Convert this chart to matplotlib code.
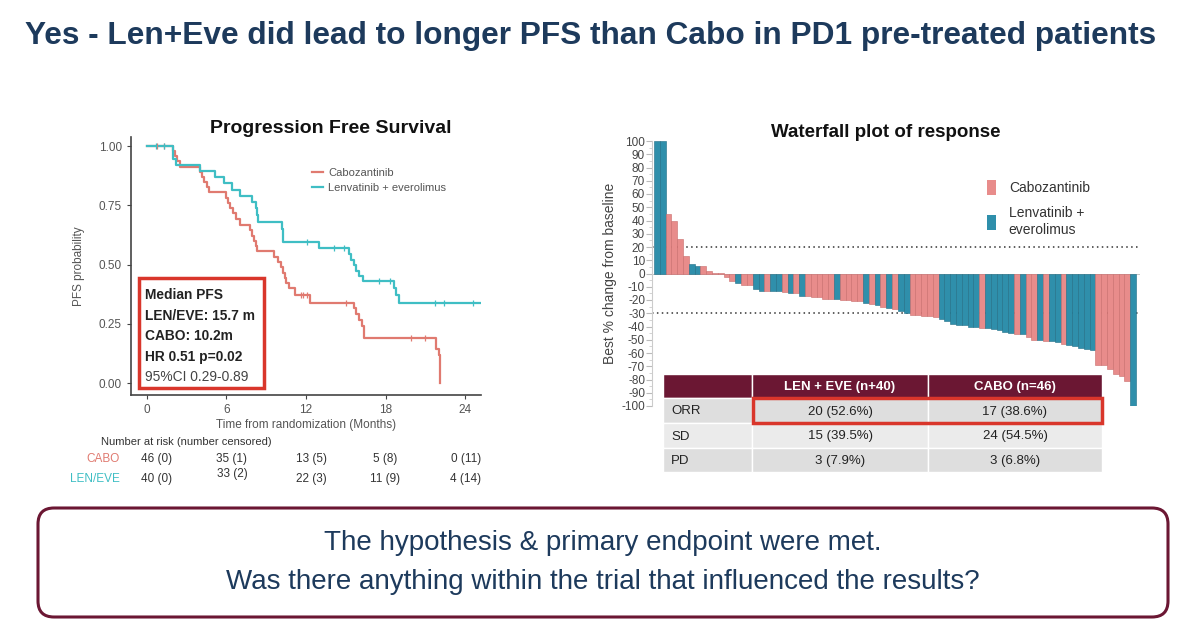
import matplotlib
matplotlib.use('Agg')
import matplotlib.pyplot as plt
from matplotlib.patches import Rectangle, FancyBboxPatch
from matplotlib.ticker import MultipleLocator
import numpy as np

plt.rcParams['font.family'] = ['Liberation Sans', 'DejaVu Sans']
plt.rcParams['axes.unicode_minus'] = False

NAVY = '#1d3a5c'
MAROON = '#6b1733'
RED_BOX = '#d9362b'
KM_RED = '#e07a70'
KM_TEAL = '#3fbec4'
WF_PINK = '#e88c8b'
WF_BLUE = '#2f8fab'

# ---------------- KM data (months, survival) ----------------
cabo_t = [0, 2.0, 2.15, 2.3, 2.5, 4.0, 4.15, 4.3, 4.5, 4.7, 6.0, 6.15, 6.3, 6.5, 6.7, 7.0,
          7.8, 7.95, 8.1, 8.2, 8.3, 9.6, 9.9, 10.1, 10.25, 10.4, 10.5, 10.7, 11.2, 12.3,
          15.6, 15.8, 16.0, 16.2, 16.4, 21.8, 22.0, 22.1]
cabo_s = [1.0, 0.978, 0.957, 0.935, 0.913, 0.891, 0.870, 0.848, 0.826, 0.804, 0.782, 0.760,
          0.738, 0.716, 0.694, 0.668, 0.645, 0.622, 0.600, 0.578, 0.556, 0.533, 0.511, 0.489,
          0.466, 0.444, 0.422, 0.400, 0.372, 0.339, 0.315, 0.290, 0.266, 0.242, 0.192,
          0.144, 0.120, 0.0]
cabo_cens_t = [0.75, 1.3, 11.6, 11.8, 12.1, 15.0, 19.9, 21.0]
cabo_cens_s = [1.0, 1.0, 0.372, 0.372, 0.372, 0.339, 0.192, 0.192]

len_t = [0, 2.0, 2.2, 4.0, 5.15, 5.8, 6.4, 7.05, 7.9, 8.2, 8.3, 8.4, 10.2, 10.25, 10.3,
         13.0, 15.25, 15.4, 15.6, 15.8, 16.0, 16.3, 16.6, 18.65, 18.8, 19.0, 25.1]
len_s = [1.0, 0.946, 0.921, 0.895, 0.868, 0.842, 0.815, 0.789, 0.763, 0.737, 0.710, 0.680,
         0.650, 0.622, 0.595, 0.570, 0.545, 0.520, 0.497, 0.473, 0.450, 0.430, 0.430,
         0.400, 0.370, 0.337, 0.337]
len_cens_t = [0.7, 1.3, 12.1, 14.1, 14.9, 17.5, 18.3, 21.7, 22.4, 24.6]
len_cens_s = [1.0, 1.0, 0.595, 0.570, 0.570, 0.430, 0.430, 0.337, 0.337, 0.337]

risk_labels = ['CABO', 'LEN/EVE']
risk_cabo = ['46 (0)', '35 (1)', '13 (5)', '5 (8)', '0 (11)']
risk_len = ['40 (0)', '33 (2)', '22 (3)', '11 (9)', '4 (14)']

# ---------------- Waterfall data ----------------
wf_vals = [100, 100, 45, 40, 26, 13, 7, 6, 6, 2, 0.6, 0.3, -3, -6, -7, -9, -9, -12, -13, -13,
           -13, -13, -14, -15, -15, -17, -17, -18, -18, -19, -19, -19, -20, -20, -21, -21,
           -22, -23, -24, -25, -26, -27, -28, -30, -31, -31, -32, -32, -33, -34, -36, -38,
           -39, -39, -40, -40, -41, -41, -42, -43, -44, -45, -46, -46, -48, -50, -50, -51,
           -51, -52, -53, -54, -55, -56, -57, -58, -69, -69, -72, -76, -77, -81, -100]
wf_arm = ['L', 'L', 'C', 'C', 'C', 'C', 'L', 'L', 'C', 'C', 'C', 'C', 'C', 'C', 'L', 'C', 'C',
          'L', 'L', 'C', 'L', 'L', 'C', 'L', 'C', 'L', 'C', 'C', 'C', 'C', 'C', 'L', 'C', 'C',
          'C', 'C', 'L', 'C', 'L', 'C', 'L', 'C', 'L', 'L', 'C', 'C', 'C', 'C', 'C', 'L', 'L',
          'L', 'L', 'L', 'L', 'L', 'C', 'L', 'L', 'L', 'L', 'L', 'C', 'L', 'C', 'C', 'L', 'C',
          'L', 'L', 'C', 'L', 'L', 'L', 'L', 'L', 'C', 'C', 'C', 'C', 'C', 'C', 'L']

tbl_cols = ['', 'LEN + EVE (n+40)', 'CABO (n=46)']
tbl_rows = ['ORR', 'SD', 'PD']
tbl_len = ['20 (52.6%)', '15 (39.5%)', '3 (7.9%)']
tbl_cabo = ['17 (38.6%)', '24 (54.5%)', '3 (6.8%)']

W, H = 1200, 628
fig = plt.figure(figsize=(12, 6.28), dpi=100)


def fax(x0, y0, x1, y1):
    return fig.add_axes([x0 / W, 1 - y1 / H, (x1 - x0) / W, (y1 - y0) / H])


# ---------------- KM plot ----------------
ax = fax(131, 137, 481, 395)
ax.step(cabo_t, cabo_s, where='post', color=KM_RED, lw=1.6, label='Cabozantinib')
ax.step(len_t, len_s, where='post', color=KM_TEAL, lw=1.6, label='Lenvatinib + everolimus')
ax.plot(cabo_cens_t, cabo_cens_s, '|', color=KM_RED, ms=5, mew=0.9)
ax.plot(len_cens_t, len_cens_s, '|', color=KM_TEAL, ms=5, mew=0.9)
ax.set_xlim(-1.2, 25.2)
ax.set_ylim(-0.05, 1.038)
ax.set_xticks([0, 6, 12, 18, 24])
ax.set_yticks([0, 0.25, 0.5, 0.75, 1.0])
ax.set_yticklabels(['0.00', '0.25', '0.50', '0.75', '1.00'])
for s in ['top', 'right']:
    ax.spines[s].set_visible(False)
for s in ['left', 'bottom']:
    ax.spines[s].set_color('#444444')
    ax.spines[s].set_linewidth(1.2)
ax.tick_params(labelsize=8.5, labelcolor='#555555', color='#444444', length=3)
ax.set_xlabel('Time from randomization (Months)', fontsize=8.5, color='#555555', labelpad=2)
ax.set_ylabel('PFS probability', fontsize=8.5, color='#555555', labelpad=10)
ax.set_title('Progression Free Survival', fontsize=14, fontweight='bold', color='#111111',
             x=0.57, pad=3)
ax.legend(loc='upper left', bbox_to_anchor=(0.5, 0.9), frameon=False, fontsize=8,
          labelcolor='#555555', handlelength=1.0, handletextpad=0.5, borderpad=0,
          labelspacing=0.45)

# ---------------- Waterfall ----------------
n = len(wf_vals)
pitch = (1136 - 654) / n
wx = fax(652, 141, 1140, 406)
xs = np.arange(n)
cols = [WF_BLUE if a == 'L' else WF_PINK for a in wf_arm]
edges = ['#1f6d85' if a == 'L' else '#c96c6b' for a in wf_arm]
wx.bar(xs, wf_vals, width=1.0, color=cols, edgecolor=edges, linewidth=0.4, zorder=3)
wx.axhline(20, color='#333333', ls=(0, (1, 2.2)), lw=1.1, zorder=1)
wx.axhline(-30, color='#333333', ls=(0, (1, 2.2)), lw=1.1, zorder=1)
wx.axhline(0, color='#bbbbbb', lw=0.6, zorder=2)
wx.set_xlim(-0.5 - 2 / pitch, n - 0.5 + 4 / pitch)
wx.set_ylim(-100, 100)
wx.yaxis.set_major_locator(MultipleLocator(10))
wx.yaxis.set_minor_locator(MultipleLocator(5))
wx.set_xticks([])
for s in ['top', 'right', 'bottom']:
    wx.spines[s].set_visible(False)
wx.spines['left'].set_color('#cccccc')
wx.tick_params(axis='y', labelsize=8.5, labelcolor='#444444', color='#bbbbbb', length=4,
               pad=1)
wx.tick_params(axis='y', which='minor', color='#cccccc', length=2.5)
wx.set_ylabel('Best % change from baseline', fontsize=10, color='#444444', labelpad=3)
wx.set_title('Waterfall plot of response', fontsize=13.5, fontweight='bold', color='#111111',
             x=0.48, pad=0)
wx.bar([0], [0], color=WF_PINK, label='Cabozantinib')
wx.bar([0], [0], color=WF_BLUE, label='Lenvatinib +\neverolimus')
wx.legend(loc='upper left', bbox_to_anchor=(0.66, 0.9), frameon=False, fontsize=10,
          labelcolor='#333333', handlelength=0.7, handleheight=1.3, handletextpad=0.9,
          labelspacing=0.8)

# ---------------- overlay (text, table, boxes) ----------------
ov = fig.add_axes([0, 0, 1, 1])
ov.set_xlim(0, W)
ov.set_ylim(H, 0)
ov.axis('off')

ov.text(591, 36, 'Yes - Len+Eve did lead to longer PFS than Cabo in PD1 pre-treated patients',
        ha='center', va='center', fontsize=22.8, fontweight='bold', color=NAVY)

# median PFS box
ov.add_patch(Rectangle((139, 278), 125, 110, fill=False, ec=RED_BOX, lw=2.5))
mtxt = ['Median PFS', 'LEN/EVE: 15.7 m', 'CABO: 10.2m', 'HR 0.51 p=0.02', '95%CI 0.29-0.89']
for i, t in enumerate(mtxt):
    ov.text(145, 295 + i * 20.5, t, ha='left', va='center', fontsize=9.9,
            fontweight='bold' if i < 4 else 'normal', color='#222222' if i < 4 else '#444444')

# number at risk
ov.text(101, 442, 'Number at risk (number censored)', fontsize=8, color='#333333', va='center')
ov.text(120, 459, risk_labels[0], fontsize=8.5, color=KM_RED, ha='right', va='center')
ov.text(120, 479, risk_labels[1], fontsize=8.5, color=KM_TEAL, ha='right', va='center')
rx = [157, 232, 311, 385, 466]
for i in range(5):
    ov.text(rx[i], 459, risk_cabo[i], fontsize=8.5, color='#333333', ha='center', va='center')
    ov.text(rx[i], 479 if i != 1 else 474, risk_len[i], fontsize=8.5, color='#333333',
            ha='center', va='center')

# response table
cx = [663, 752, 928, 1102]
ry = [374, 398, 423, 448, 472]
for j in range(3):
    ov.add_patch(Rectangle((cx[j], ry[0]), cx[j + 1] - cx[j], ry[1] - ry[0],
                           fc=MAROON, ec='white', lw=1.0))
    if tbl_cols[j]:
        ov.text((cx[j] + cx[j + 1]) / 2, (ry[0] + ry[1]) / 2 + 1, tbl_cols[j], ha='center',
                va='center', fontsize=9.5, fontweight='bold', color='white')
for i in range(3):
    fc = '#dedede' if i != 1 else '#ebebeb'
    for j in range(3):
        ov.add_patch(Rectangle((cx[j], ry[i + 1]), cx[j + 1] - cx[j], ry[i + 2] - ry[i + 1],
                               fc=fc, ec='white', lw=1.0))
    ov.text(cx[0] + 8, (ry[i + 1] + ry[i + 2]) / 2 + 1, tbl_rows[i], ha='left', va='center',
            fontsize=9.5, color='#222222')
    ov.text((cx[1] + cx[2]) / 2, (ry[i + 1] + ry[i + 2]) / 2 + 1, tbl_len[i], ha='center',
            va='center', fontsize=9.5, color='#222222')
    ov.text((cx[2] + cx[3]) / 2, (ry[i + 1] + ry[i + 2]) / 2 + 1, tbl_cabo[i], ha='center',
            va='center', fontsize=9.5, color='#222222')
ov.add_patch(Rectangle((753, 398), 349, 25, fill=False, ec=RED_BOX, lw=2.5, zorder=5))

# bottom box
ov.add_patch(FancyBboxPatch((38, 508), 1130, 109, boxstyle='round,pad=0,rounding_size=16',
                            fc='white', ec=MAROON, lw=2.2))
ov.text(603, 543, 'The hypothesis & primary endpoint were met.', ha='center', va='center',
        fontsize=20, color=NAVY)
ov.text(603, 582, 'Was there anything within the trial that influenced the results?',
        ha='center', va='center', fontsize=20, color=NAVY)

fig.savefig('out.png', dpi=100, facecolor='white')
